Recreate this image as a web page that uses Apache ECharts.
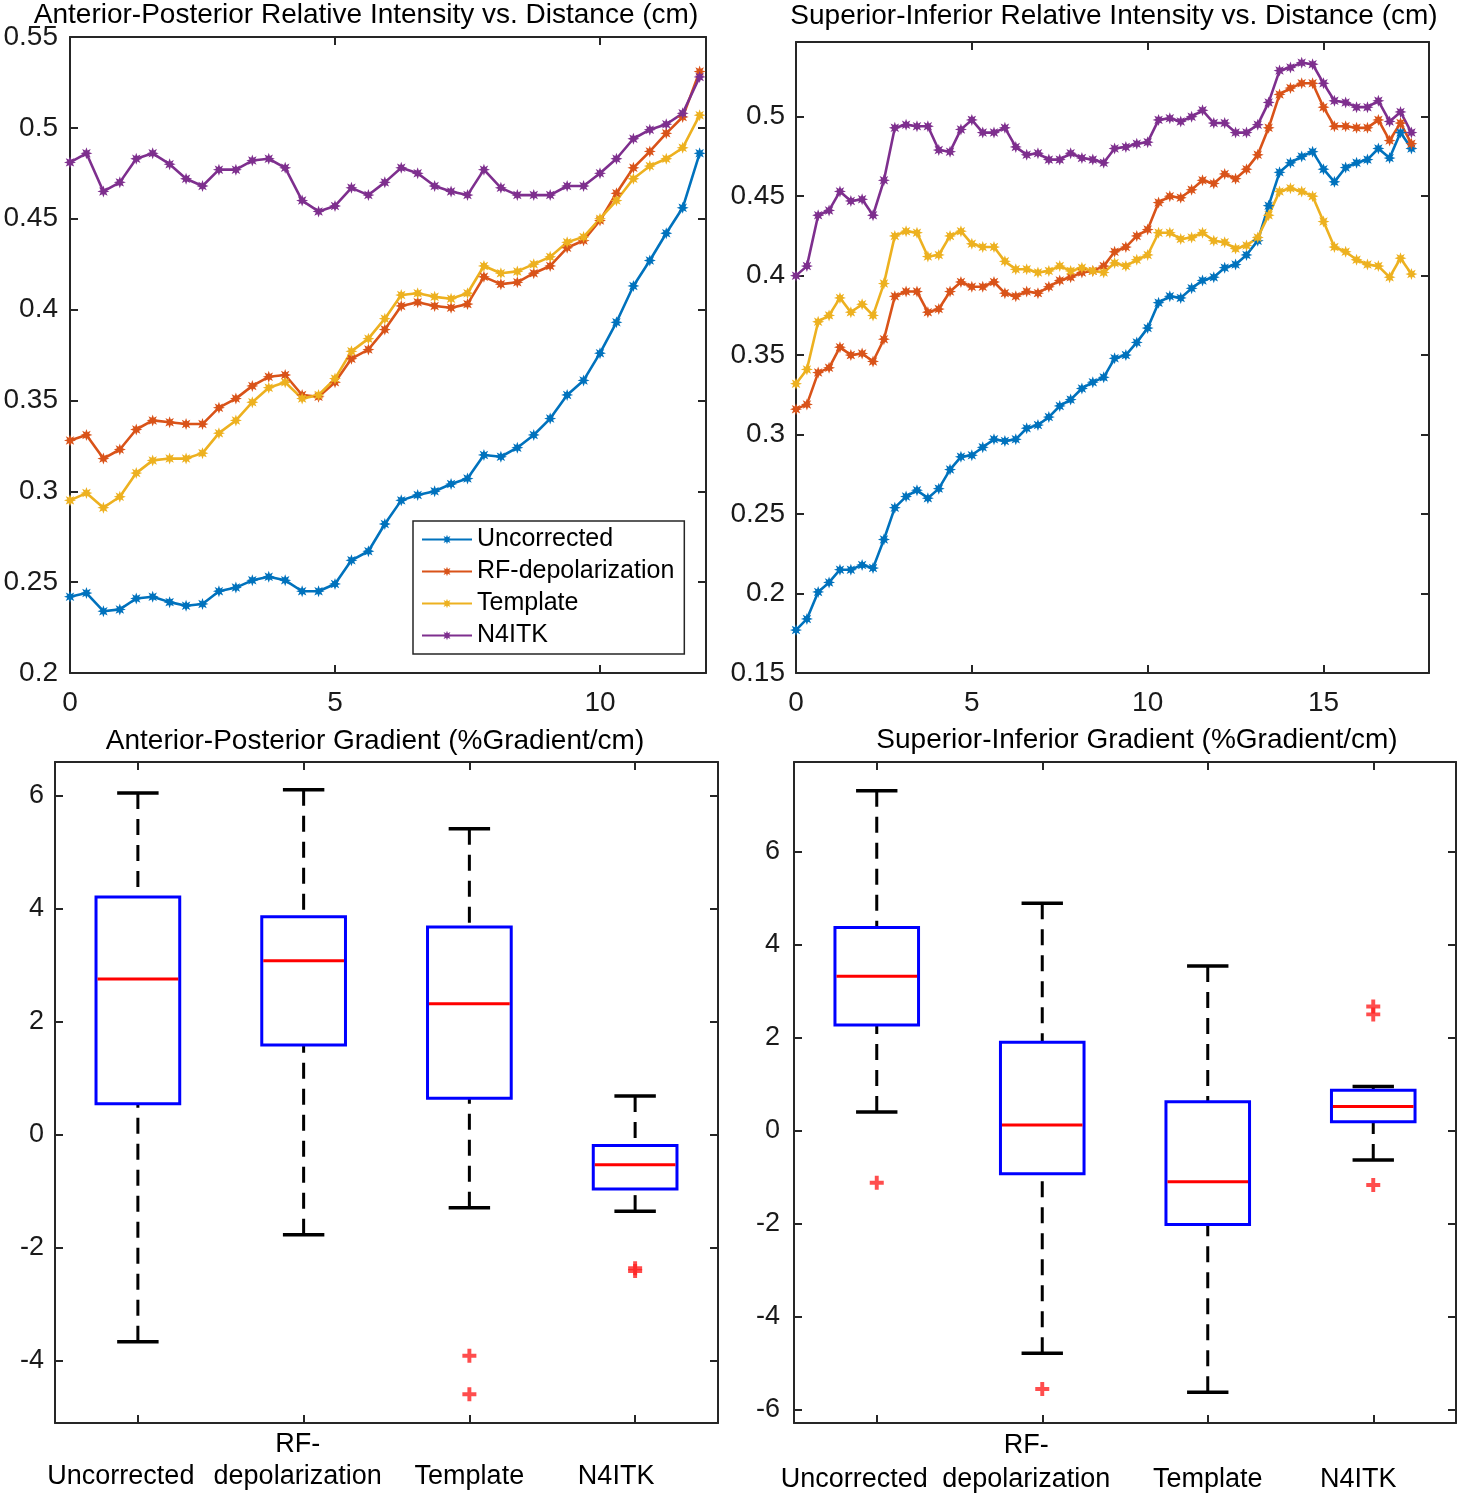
<!DOCTYPE html>
<html><head><meta charset="utf-8">
<script src="https://cdn.jsdelivr.net/npm/echarts@6/dist/echarts.min.js"></script>
<style>html,body{margin:0;padding:0;background:#fff}#c{width:1460px;height:1500px}</style>
</head><body><div id="c"></div>
<script>
// ---------------- DATA ----------------
const seriesNames = ['Uncorrected', 'RF-depolarization', 'Template', 'N4ITK'];

// Anterior-Posterior profile (distance in cm)
const apX = [0, 0.31, 0.63, 0.94, 1.25, 1.56, 1.88, 2.19, 2.5, 2.81, 3.13, 3.44, 3.75, 4.06, 4.38, 4.69, 5, 5.31, 5.63, 5.94,
  6.25, 6.56, 6.88, 7.19, 7.5, 7.81, 8.13, 8.44, 8.75, 9.06, 9.38, 9.69, 10, 10.31, 10.63, 10.94, 11.25, 11.56, 11.88];
const apUncorrected = [0.242, 0.244, 0.234, 0.235, 0.241, 0.242, 0.239, 0.237, 0.238, 0.245, 0.247, 0.251, 0.253, 0.251, 0.245,
  0.245, 0.249, 0.262, 0.267, 0.282, 0.295, 0.298, 0.300, 0.304, 0.307, 0.320, 0.319, 0.324, 0.331, 0.340, 0.353, 0.361, 0.376,
  0.393, 0.413, 0.427, 0.442, 0.456, 0.486];
const apRF = [0.328, 0.331, 0.318, 0.323, 0.334, 0.339, 0.338, 0.337, 0.337, 0.346, 0.351, 0.358, 0.363, 0.364, 0.353, 0.352,
  0.360, 0.373, 0.378, 0.389, 0.402, 0.404, 0.402, 0.401, 0.403, 0.418, 0.414, 0.415, 0.420, 0.424, 0.434, 0.438, 0.449, 0.464,
  0.478, 0.487, 0.497, 0.506, 0.531];
const apTemplate = [0.295, 0.299, 0.291, 0.297, 0.310, 0.317, 0.318, 0.318, 0.321, 0.332, 0.339, 0.349, 0.357, 0.360, 0.351,
  0.353, 0.362, 0.377, 0.384, 0.395, 0.408, 0.409, 0.407, 0.406, 0.409, 0.424, 0.420, 0.421, 0.425, 0.429, 0.437, 0.440, 0.450,
  0.460, 0.472, 0.479, 0.483, 0.489, 0.507];
const apN4ITK = [0.481, 0.486, 0.465, 0.470, 0.483, 0.486, 0.480, 0.472, 0.468, 0.477, 0.477, 0.482, 0.483, 0.478, 0.460, 0.454,
  0.457, 0.467, 0.463, 0.470, 0.478, 0.475, 0.468, 0.465, 0.463, 0.477, 0.467, 0.463, 0.463, 0.463, 0.468, 0.468, 0.475, 0.483,
  0.494, 0.499, 0.502, 0.508, 0.528];

// Superior-Inferior profile (distance in cm)
const siX = [0, 0.31, 0.63, 0.94, 1.25, 1.56, 1.88, 2.19, 2.5, 2.81, 3.13, 3.44, 3.75, 4.06, 4.38, 4.69, 5, 5.31, 5.63, 5.94,
  6.25, 6.56, 6.88, 7.19, 7.5, 7.81, 8.13, 8.44, 8.75, 9.06, 9.38, 9.69, 10, 10.31, 10.63, 10.94, 11.25, 11.56, 11.88, 12.19,
  12.5, 12.81, 13.13, 13.44, 13.75, 14.06, 14.38, 14.69, 15, 15.31, 15.63, 15.94, 16.25, 16.56, 16.88, 17.19, 17.5];
const siUncorrected = [0.177, 0.184, 0.201, 0.207, 0.215, 0.215, 0.218, 0.216, 0.234, 0.254, 0.261, 0.265, 0.260, 0.266, 0.278,
  0.286, 0.287, 0.292, 0.297, 0.296, 0.297, 0.304, 0.306, 0.311, 0.318, 0.322, 0.329,
  0.333, 0.336, 0.348, 0.350, 0.358, 0.367, 0.383, 0.387, 0.386, 0.392, 0.397, 0.399, 0.405, 0.407, 0.413, 0.422, 0.444, 0.465,
  0.471, 0.475, 0.478, 0.467, 0.459, 0.468, 0.471, 0.473, 0.480, 0.474, 0.490, 0.480];
const siRF = [0.316, 0.319, 0.339, 0.342, 0.355, 0.350, 0.351, 0.346, 0.360, 0.387, 0.390, 0.390, 0.377, 0.379, 0.390, 0.396,
  0.393, 0.393, 0.396, 0.389, 0.387, 0.390, 0.389, 0.393, 0.397, 0.399, 0.402,
  0.403, 0.406, 0.415, 0.418, 0.425, 0.429, 0.446, 0.450, 0.449, 0.454, 0.460, 0.458, 0.464, 0.461, 0.467, 0.476, 0.493, 0.514,
  0.518, 0.521, 0.521, 0.506, 0.494, 0.494, 0.493, 0.493, 0.498, 0.485, 0.496, 0.483];
const siTemplate = [0.332, 0.341, 0.371, 0.375, 0.386, 0.377, 0.382, 0.375, 0.395, 0.425, 0.428, 0.427, 0.412, 0.413, 0.425,
  0.428, 0.420, 0.418, 0.418, 0.409, 0.404, 0.404, 0.402, 0.403, 0.406, 0.403, 0.405,
  0.403, 0.402, 0.408, 0.406, 0.410, 0.413, 0.427, 0.427, 0.423, 0.424, 0.427, 0.422, 0.421, 0.417, 0.419, 0.424, 0.438, 0.453,
  0.455, 0.453, 0.450, 0.434, 0.418, 0.415, 0.410, 0.407, 0.406, 0.399, 0.411, 0.401];
const siN4ITK = [0.400, 0.406, 0.438, 0.441, 0.453, 0.447, 0.448, 0.438, 0.460, 0.493, 0.495, 0.494, 0.494, 0.479, 0.478, 0.492,
  0.498, 0.490, 0.490, 0.493, 0.481, 0.476, 0.477, 0.473, 0.473, 0.477, 0.474,
  0.473, 0.471, 0.480, 0.481, 0.483, 0.484, 0.498, 0.499, 0.497, 0.500, 0.504, 0.496, 0.496, 0.490, 0.490, 0.495, 0.509, 0.529,
  0.531, 0.534, 0.533, 0.521, 0.510, 0.509, 0.506, 0.506, 0.510, 0.497, 0.503, 0.490];

// Box plots (%Gradient/cm): categories, whiskers, quartiles, medians, outliers [categoryIndex, value]
const boxCategories = ['Uncorrected', 'RF-depolarization', 'Template', 'N4ITK'];
const apLow    = [-3.66, -1.77, -1.29, -1.35];
const apQ1     = [0.55, 1.59, 0.65, -0.96];
const apMedian = [2.76, 3.08, 2.32, -0.53];
const apQ3     = [4.21, 3.86, 3.68, -0.19];
const apHigh   = [6.05, 6.11, 5.42, 0.69];
const apOutliers = [[2, -3.91], [2, -4.59], [3, -2.36], [3, -2.41]];

const siLow    = [0.40, -4.79, -5.63, -0.63];
const siQ1     = [2.27, -0.93, -2.02, 0.19];
const siMedian = [3.32, 0.12, -1.10, 0.52];
const siQ3     = [4.37, 1.90, 0.62, 0.87];
const siHigh   = [7.31, 4.89, 3.54, 0.95];
const siOutliers = [[0, -1.12], [1, -5.56], [3, 2.50], [3, 2.67], [3, -1.17]];

// tick labels
const apYTicks = [-4, -2, 0, 2, 4, 6];
const siYTicks = [-6, -4, -2, 0, 2, 4, 6];

// ---------------- STYLE ----------------
const FONT = '"Liberation Sans", Arial, Helvetica, sans-serif';
const AX = '#262626';
const colors = ['#0072BD', '#D95319', '#EDB120', '#7E2F8E'];
const STAR = 'path://M1,0L1.19,0.54L1.707,0.293L1.46,0.81L2,1L1.46,1.19L1.707,1.707L1.19,1.46L1,2L0.81,1.46L0.293,1.707L0.54,1.19L0,1L0.54,0.81L0.293,0.293L0.81,0.54Z';
const PLUS = 'path://M0.36,0H0.64V0.36H1V0.64H0.64V1H0.36V0.64H0V0.36H0.36Z';

const axLine = {show: true, onZero: false, lineStyle: {color: AX, width: 2}};
const axTick = {show: true, inside: true, length: 8, lineStyle: {color: AX, width: 2}};
const noSplit = {show: false};

function valAxis(grid, pos, min, max, interval, label, extra) {
  return Object.assign({
    gridIndex: grid, type: 'value', position: pos, min: min, max: max, interval: interval,
    axisLine: axLine, axisTick: axTick, splitLine: noSplit,
    axisLabel: label ? Object.assign({fontFamily: FONT, fontSize: 28, color: '#1a1a1a'}, label) : {show: false}
  }, extra || {});
}
function customYAxis(grid, pos, min, max, ticks, label) {
  return {
    gridIndex: grid, type: 'value', position: pos, min: min, max: max,
    axisLine: axLine,
    axisTick: Object.assign({}, axTick, {customValues: ticks}),
    splitLine: noSplit,
    axisLabel: label ? Object.assign({fontFamily: FONT, fontSize: 27, color: '#1a1a1a', customValues: ticks}, label)
                     : {show: false, customValues: ticks}
  };
}

function catLabelText(name, style) {
  if (name.indexOf('-') >= 0) {
    const parts = name.split('-');
    return '{' + style + '|' + parts[0] + '-}\n{' + style + '|' + parts[1] + '}';
  }
  return '\n{' + style + '|' + name + '}';
}
function catAxis(grid, pos, labelCfg) {
  return {
    gridIndex: grid, type: 'category', position: pos, data: boxCategories, boundaryGap: true,
    axisLine: axLine,
    axisTick: Object.assign({}, axTick, {alignWithLabel: true}),
    splitLine: noSplit,
    axisLabel: labelCfg || {show: false}
  };
}
const richBase = {fontFamily: FONT, fontSize: 27, color: '#000'};
function labelCfg(padRights, lh) {
  const rich = {};
  ['s0', 's1', 's2', 's3'].forEach(function (k, i) {
    rich[k] = Object.assign({}, richBase, {lineHeight: lh, padding: [0, padRights[i], 0, 0]});
  });
  return {
    show: true, interval: 0, margin: 6, fontFamily: FONT, fontSize: 27, color: '#000', lineHeight: lh,
    formatter: function (v, i) { return catLabelText(v, 's' + i); },
    rich: rich
  };
}

function lineSeries(name, xs, ys, idx, axisIdx) {
  return {
    name: name, type: 'line', xAxisIndex: axisIdx, yAxisIndex: axisIdx,
    data: xs.map(function (x, i) { return [x, ys[i]]; }),
    symbol: STAR, symbolSize: 12, showSymbol: true,
    lineStyle: {color: colors[idx], width: 2.6},
    itemStyle: {color: colors[idx]},
    emphasis: {disabled: true}, animation: false
  };
}

function renderBox(params, api) {
  const i = api.value(0);
  const pLo = api.coord([i, api.value(1)]);
  const pQ1 = api.coord([i, api.value(2)]);
  const pMed = api.coord([i, api.value(3)]);
  const pQ3 = api.coord([i, api.value(4)]);
  const pHi = api.coord([i, api.value(5)]);
  const band = api.size([1, 0])[0];
  const bw = band * 0.505;
  const cw = band * 0.25;
  const cx = pMed[0];
  const dash = {stroke: '#000', lineWidth: 3, lineDash: [16, 10], fill: null};
  const cap = {stroke: '#000', lineWidth: 3.5, fill: null};
  return {
    type: 'group',
    children: [
      {type: 'line', shape: {x1: cx, y1: pHi[1], x2: cx, y2: pQ3[1]}, style: dash},
      {type: 'line', shape: {x1: cx, y1: pLo[1], x2: cx, y2: pQ1[1]}, style: dash},
      {type: 'line', shape: {x1: cx - cw / 2, y1: pHi[1], x2: cx + cw / 2, y2: pHi[1]}, style: cap},
      {type: 'line', shape: {x1: cx - cw / 2, y1: pLo[1], x2: cx + cw / 2, y2: pLo[1]}, style: cap},
      {type: 'rect', shape: {x: cx - bw / 2, y: pQ3[1], width: bw, height: pQ1[1] - pQ3[1]},
        style: {fill: null, stroke: '#0000FF', lineWidth: 3}},
      {type: 'line', shape: {x1: cx - bw / 2 + 1.5, y1: pMed[1], x2: cx + bw / 2 - 1.5, y2: pMed[1]},
        style: {stroke: '#FF0000', lineWidth: 3}}
    ]
  };
}
function boxSeries(lo, q1, med, q3, hi, axisIdx) {
  return {
    type: 'custom', xAxisIndex: axisIdx, yAxisIndex: axisIdx,
    data: boxCategories.map(function (c, i) { return [i, lo[i], q1[i], med[i], q3[i], hi[i]]; }),
    encode: {x: 0, y: [1, 2, 3, 4, 5]},
    renderItem: renderBox, animation: false, silent: true
  };
}
function outlierSeries(pts, axisIdx) {
  return {
    type: 'scatter', xAxisIndex: axisIdx, yAxisIndex: axisIdx, data: pts,
    symbol: PLUS, symbolSize: 14, itemStyle: {color: '#FF2020'}, animation: false, silent: true
  };
}

const titleStyle = {fontFamily: FONT, fontSize: 28, fontWeight: 'normal', color: '#000', lineHeight: 30};

const option = {
  backgroundColor: '#fff',
  animation: false,
  title: [
    {text: 'Anterior-Posterior Relative Intensity vs. Distance (cm)', left: 366, top: 0, textAlign: 'center', padding: 0, textStyle: titleStyle},
    {text: 'Superior-Inferior Relative Intensity vs. Distance (cm)', left: 1114, top: 1, textAlign: 'center', padding: 0, textStyle: titleStyle},
    {text: 'Anterior-Posterior Gradient (%Gradient/cm)', left: 375, top: 726, textAlign: 'center', padding: 0, textStyle: titleStyle},
    {text: 'Superior-Inferior Gradient (%Gradient/cm)', left: 1137, top: 725, textAlign: 'center', padding: 0, textStyle: titleStyle}
  ],
  legend: {
    data: seriesNames, left: 413, top: 521, orient: 'vertical',
    itemWidth: 50, itemHeight: 12, itemGap: 7, padding: [6, 10, 6, 8],
    borderColor: AX, borderWidth: 1.5, backgroundColor: '#fff', selectedMode: false,
    textStyle: {fontFamily: FONT, fontSize: 25, lineHeight: 25, color: '#000'}
  },
  grid: [
    {left: 70, top: 37, width: 636, height: 636, outerBoundsMode: 'none'},
    {left: 796, top: 42, width: 633, height: 631, outerBoundsMode: 'none'},
    {left: 55, top: 762, width: 663, height: 661, outerBoundsMode: 'none'},
    {left: 794, top: 762, width: 662, height: 661, outerBoundsMode: 'none'}
  ],
  xAxis: [
    valAxis(0, 'bottom', 0, 12, 5, {margin: 16, showMaxLabel: false}),
    valAxis(0, 'top', 0, 12, 5, null),
    valAxis(1, 'bottom', 0, 18, 5, {margin: 16, showMaxLabel: false}),
    valAxis(1, 'top', 0, 18, 5, null),
    catAxis(2, 'bottom', labelCfg([34, 12, 0, 38], 32)),
    catAxis(2, 'top', null),
    catAxis(3, 'bottom', labelCfg([45, 32, 0, 30], 34)),
    catAxis(3, 'top', null)
  ],
  yAxis: [
    valAxis(0, 'left', 0.2, 0.55, 0.05, {margin: 12}),
    valAxis(0, 'right', 0.2, 0.55, 0.05, null),
    valAxis(1, 'left', 0.15, 0.547, 0.05, {margin: 11, showMaxLabel: false}),
    valAxis(1, 'right', 0.15, 0.547, 0.05, null),
    customYAxis(2, 'left', -5.1, 6.6, apYTicks, {margin: 11}),
    customYAxis(2, 'right', -5.1, 6.6, apYTicks, null),
    customYAxis(3, 'left', -6.29, 7.93, siYTicks, {margin: 14}),
    customYAxis(3, 'right', -6.29, 7.93, siYTicks, null)
  ],
  series: [
    lineSeries(seriesNames[0], apX, apUncorrected, 0, 0),
    lineSeries(seriesNames[1], apX, apRF, 1, 0),
    lineSeries(seriesNames[2], apX, apTemplate, 2, 0),
    lineSeries(seriesNames[3], apX, apN4ITK, 3, 0),
    lineSeries(seriesNames[0], siX, siUncorrected, 0, 2),
    lineSeries(seriesNames[1], siX, siRF, 1, 2),
    lineSeries(seriesNames[2], siX, siTemplate, 2, 2),
    lineSeries(seriesNames[3], siX, siN4ITK, 3, 2),
    boxSeries(apLow, apQ1, apMedian, apQ3, apHigh, 4),
    outlierSeries(apOutliers, 4),
    boxSeries(siLow, siQ1, siMedian, siQ3, siHigh, 6),
    outlierSeries(siOutliers, 6)
  ]
};

const chart = echarts.init(document.getElementById('c'), null, {renderer: 'canvas'});
chart.setOption(option);
</script>
</body></html>
